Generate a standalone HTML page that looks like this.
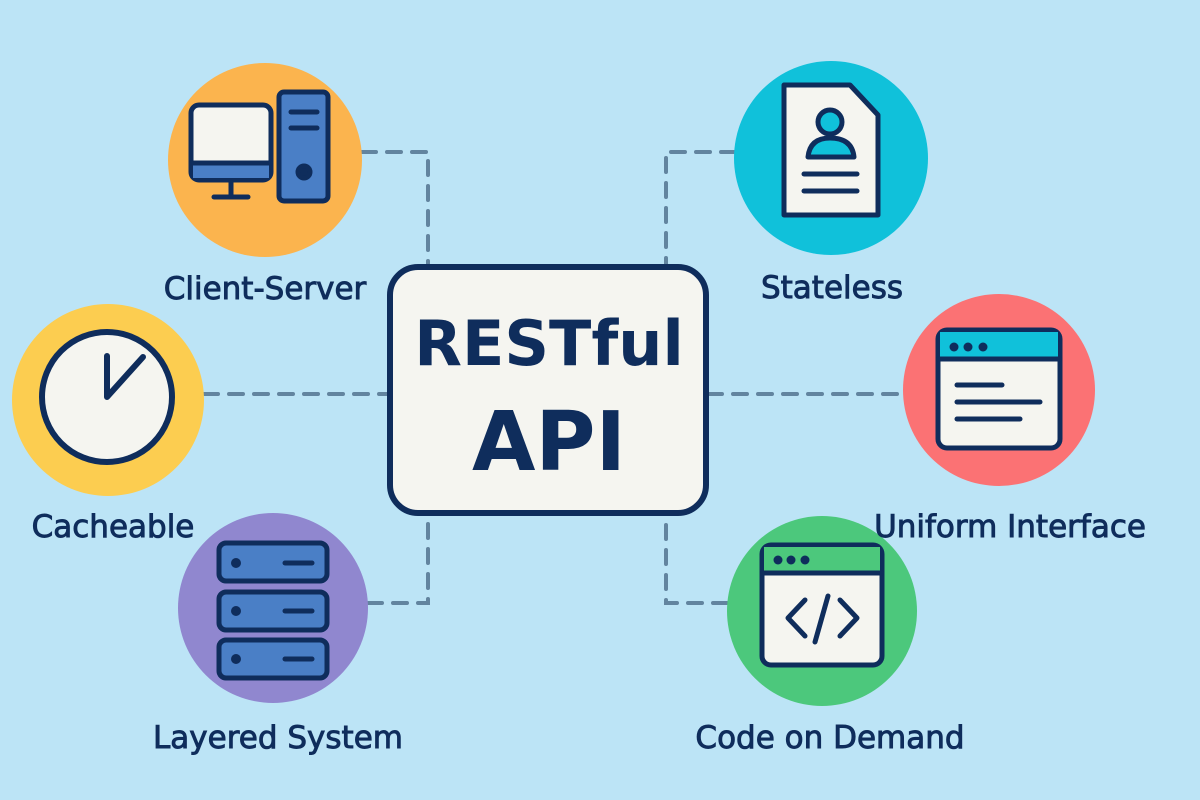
<!DOCTYPE html>
<html><head><meta charset="utf-8"><style>
html,body{margin:0;padding:0;background:#bce4f6;}
svg{display:block}
text{font-family:"DejaVu Sans","Liberation Sans",sans-serif;fill:#0f2d5c;}
</style></head><body>
<svg width="1200" height="800" viewBox="0 0 1200 800" xmlns="http://www.w3.org/2000/svg">
<rect width="1200" height="800" fill="#bce4f6"/>
<g stroke="#62849f" stroke-width="4" fill="none" stroke-dasharray="14 11" stroke-linecap="round">
<path d="M362 152 H428 V265"/>
<path d="M735 152 H666 V265"/>
<path d="M204 394 H388"/>
<path d="M708 394 H903"/>
<path d="M368 603 H428 V515"/>
<path d="M727 603 H666 V515"/>
</g>
<circle cx="265" cy="160" r="97" fill="#fbb44e"/>
<circle cx="831" cy="158" r="97" fill="#10c1da"/>
<circle cx="108" cy="400" r="96" fill="#fccd50"/>
<circle cx="999" cy="390" r="96" fill="#fb7274"/>
<circle cx="273" cy="608" r="95" fill="#9087cf"/>
<circle cx="822" cy="611" r="95" fill="#4cc87c"/>
<g stroke="#0f2d5c" stroke-width="5" stroke-linecap="round" stroke-linejoin="round">
<rect x="191" y="105" width="80" height="75" rx="8" fill="#f5f5f0"/>
<rect x="193" y="163" width="76" height="15" fill="#4a7fc6" stroke="none"/>
<line x1="191" y1="163" x2="271" y2="163"/>
<line x1="231" y1="182" x2="231" y2="196"/><line x1="214" y1="197" x2="248" y2="197"/>
<rect x="279" y="92" width="49" height="109" rx="5" fill="#4a7fc6"/>
<line x1="291" y1="112" x2="317" y2="112"/><line x1="291" y1="128" x2="317" y2="128"/>
<circle cx="304" cy="172" r="6" fill="#0f2d5c"/>
<path d="M784 85 H850 L878 115 V215 H784 Z" fill="#f5f5f0"/>
<circle cx="830" cy="122" r="12" fill="#10c1da"/>
<path d="M808 157 Q810 138 830 138 Q852 138 854 157 Z" fill="#10c1da"/>
<line x1="804" y1="174" x2="857" y2="174"/><line x1="804" y1="191" x2="857" y2="191"/>
<circle cx="107" cy="397" r="65" fill="#f5f5f0" stroke-width="6"/>
<path d="M107 356 V397 L143 357" fill="none" stroke-width="6"/>
<rect x="938" y="330" width="122" height="118" rx="9" fill="#f5f5f0"/>
<rect x="940" y="332" width="118" height="26" fill="#10c1da" stroke="none"/>
<line x1="938" y1="359" x2="1060" y2="359"/>
<line x1="957" y1="385" x2="1002" y2="385"/><line x1="957" y1="402" x2="1040" y2="402"/><line x1="957" y1="419" x2="1020" y2="419"/>
<rect x="219" y="543" width="108" height="38" rx="7" fill="#4a7fc6"/>
<rect x="219" y="592" width="108" height="38" rx="7" fill="#4a7fc6"/>
<rect x="219" y="640" width="108" height="38" rx="7" fill="#4a7fc6"/>
<line x1="285" y1="563" x2="312" y2="563"/><line x1="285" y1="611" x2="312" y2="611"/><line x1="285" y1="659" x2="312" y2="659"/>
<rect x="762" y="545" width="120" height="120" rx="9" fill="#f5f5f0"/>
<rect x="764" y="547" width="116" height="25" fill="#4cc87c" stroke="none"/>
<line x1="762" y1="573" x2="882" y2="573"/>
<path d="M805 600 L788 618 L805 636 M840 600 L857 618 L840 636 M828 596 L815 642" fill="none"/>
</g>
<g fill="#0f2d5c">
<circle cx="236" cy="563" r="5"/><circle cx="236" cy="611" r="5"/><circle cx="236" cy="659" r="5"/>
<circle cx="954" cy="347" r="4.5"/><circle cx="968" cy="347" r="4.5"/><circle cx="983" cy="347" r="4.5"/>
<circle cx="778" cy="560" r="4.5"/><circle cx="791" cy="560" r="4.5"/><circle cx="805" cy="560" r="4.5"/>
</g>
<rect x="390" y="267" width="316" height="246" rx="28" fill="#f5f5f0" stroke="#0f2d5c" stroke-width="6"/>
<text x="549" y="365" font-size="62" font-weight="bold" text-anchor="middle">RESTful</text>
<text x="549" y="470" font-size="82" font-weight="bold" text-anchor="middle">API</text>
<g font-size="31" text-anchor="middle" stroke="#0f2d5c" stroke-width="0.9">
<text x="265" y="299">Client-Server</text>
<text x="832" y="298">Stateless</text>
<text x="113" y="537">Cacheable</text>
<text x="1010" y="537">Uniform Interface</text>
<text x="278" y="748">Layered System</text>
<text x="830" y="748">Code on Demand</text>
</g>
</svg>
</body></html>
